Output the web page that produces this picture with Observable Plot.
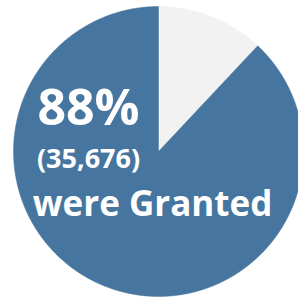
<!DOCTYPE html>
<html><head><meta charset="utf-8">
<script src="https://cdn.jsdelivr.net/npm/d3@7"></script>
<script src="https://cdn.jsdelivr.net/npm/@observablehq/plot@0.6"></script>
<style>html,body{margin:0;padding:0;background:#fff;overflow:hidden}</style>
</head><body><div id="chart"></div>
<script>
const categories = ["Not granted", "Granted"];
const values = [4865, 35676];
const colors = ["#f2f2f2", "#46769f"];
const labelPct = ["88%"];
const labelCount = ["(35,676)"];
const labelText = ["were Granted"];

const arcs = d3.pie().sort(null).value(d => d)(values);
const pts = [];
arcs.forEach((a, i) => {
  const n = Math.max(2, Math.ceil((a.endAngle - a.startAngle) / 0.005));
  pts.push({cat: categories[i], x: 0, y: 0});
  for (let k = 0; k <= n; k++) {
    const t = a.startAngle + (a.endAngle - a.startAngle) * k / n;
    pts.push({cat: categories[i], x: Math.sin(t), y: Math.cos(t)});
  }
  pts.push({cat: categories[i], x: 0, y: 0});
});

const font = "'Open Sans', Lato, sans-serif";
const chart = Plot.plot({
  width: 298, height: 299, margin: 0,
  x: {domain: [-1, 1], range: [13, 303], axis: null},
  y: {domain: [-1, 1], range: [296, 6], axis: null},
  color: {domain: categories, range: colors},
  style: {background: "#fff", overflow: "hidden"},
  marks: [
    Plot.line(pts, {x: "x", y: "y", z: "cat", fill: "cat", stroke: "cat", strokeWidth: 0.5}),
    Plot.text(labelPct, {frameAnchor: "top-left", dx: 88, dy: 108, text: d => d, textAnchor: "middle", lineAnchor: "middle", fill: "white", fontSize: 50, fontWeight: "bold", fontFamily: font}),
    Plot.text(labelCount, {frameAnchor: "top-left", dx: 88, dy: 159, text: d => d, textAnchor: "middle", lineAnchor: "middle", fill: "white", fontSize: 27, fontWeight: "bold", fontFamily: font}),
    Plot.text(labelText, {frameAnchor: "top-left", dx: 152, dy: 204, text: d => d, textAnchor: "middle", lineAnchor: "middle", fill: "white", fontSize: 35, fontWeight: "bold", fontFamily: font})
  ]
});
document.getElementById("chart").append(chart);
</script>
</body></html>
